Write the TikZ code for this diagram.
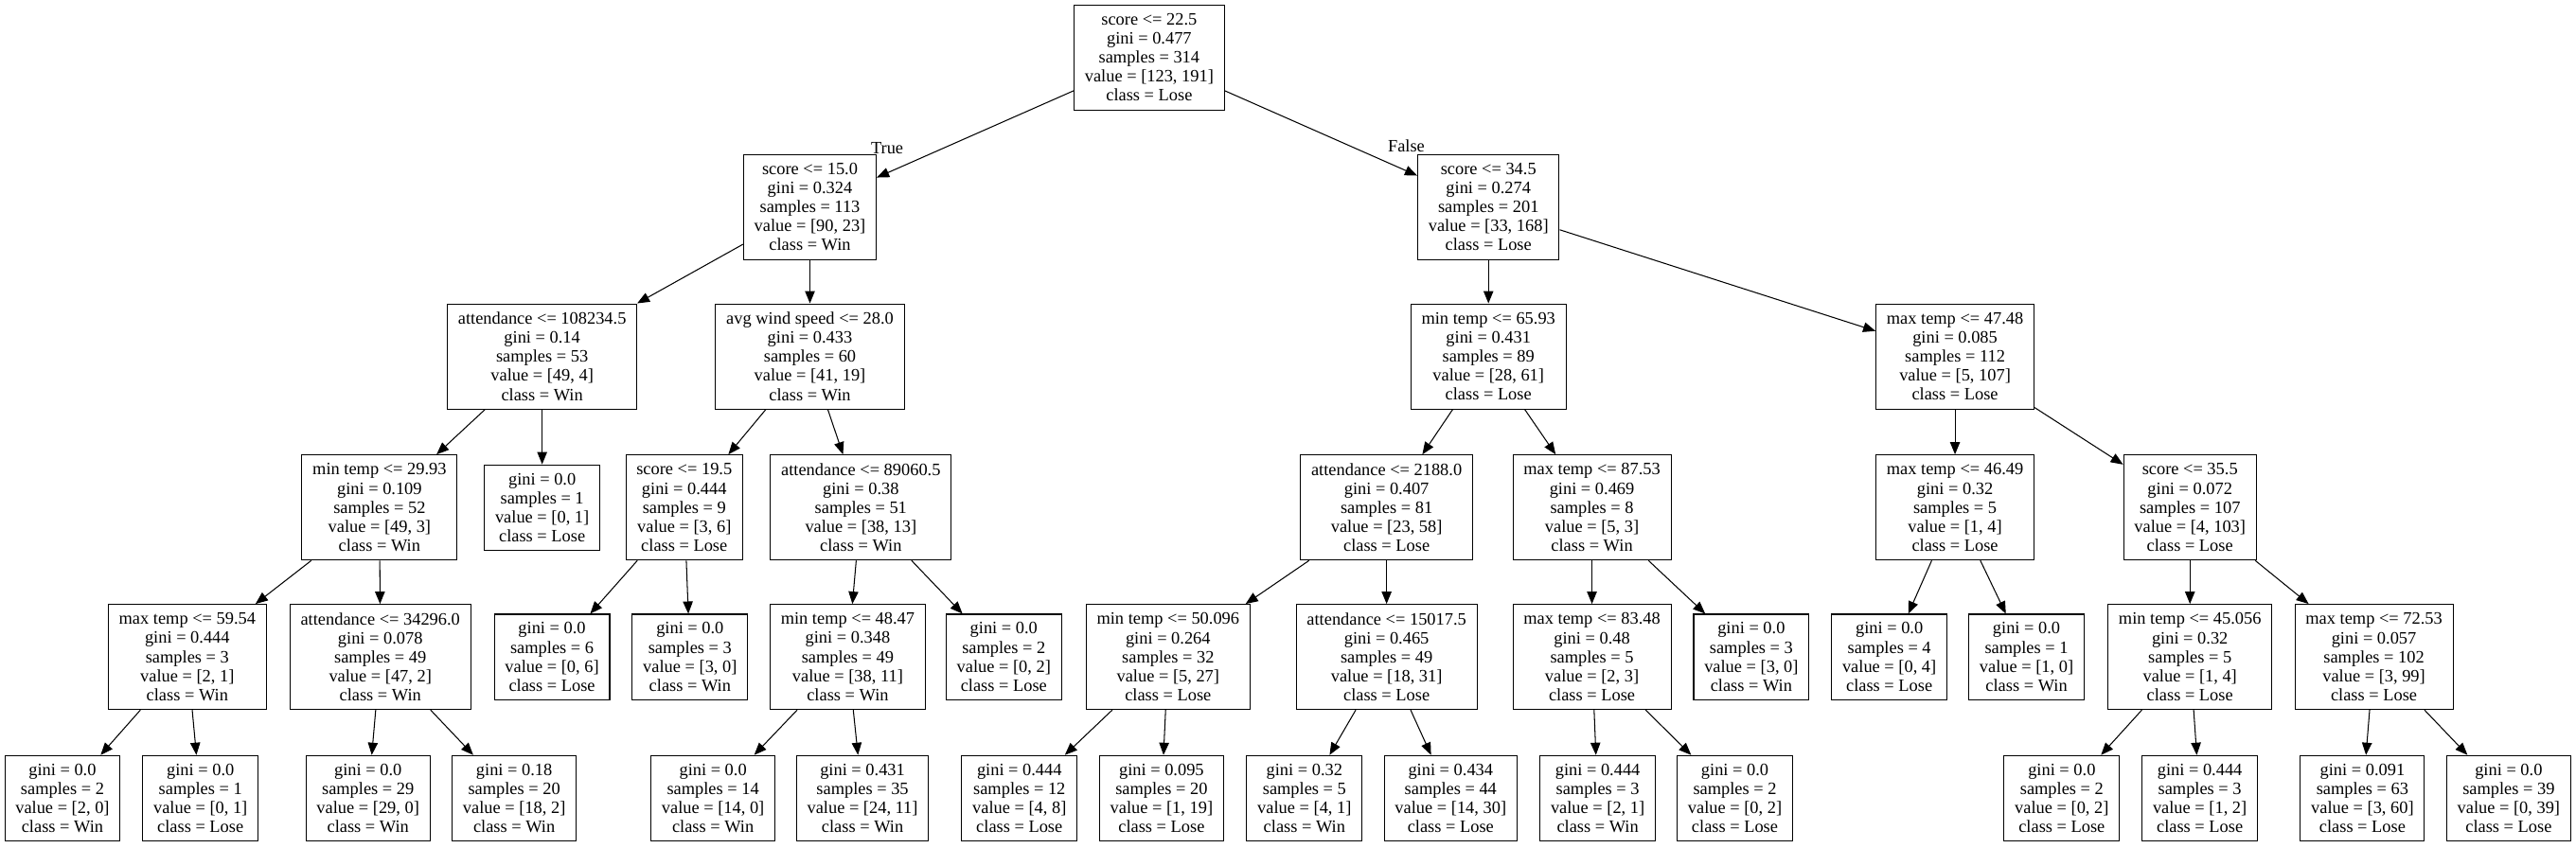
\documentclass[tikz,border=0pt]{standalone}
\usepackage{fontspec}
\setmainfont{Liberation Serif}
\usetikzlibrary{arrows.meta}

\begin{document}
\begin{tikzpicture}[x=1pt, y=-1pt,
    split/.style={draw, line width=0.6pt, align=center, inner xsep=6.5pt, inner ysep=0pt, minimum height=64pt, font=\fontsize{10.6}{11.6}\selectfont},
    leaf/.style={split, minimum height=52pt},
    edge/.style={-{Triangle[length=7.5pt, width=6pt]}, line width=0.6pt},
    lbl/.style={font=\fontsize{10.6}{11.6}\selectfont, inner sep=0pt}]
    \useasboundingbox (0,0) rectangle (1568,516);

    % level 0
    \node[split] (n) at (699.5,35) {score <= 22.5\\gini = 0.477\\samples = 314\\value = [123, 191]\\class = Lose};

    % level 1
    \node[split] (nL) at (493,126) {score <= 15.0\\gini = 0.324\\samples = 113\\value = [90, 23]\\class = Win};
    \node[split] (nR) at (906,126) {score <= 34.5\\gini = 0.274\\samples = 201\\value = [33, 168]\\class = Lose};

    % level 2
    \node[split] (nLL) at (330,217) {attendance <= 108234.5\\gini = 0.14\\samples = 53\\value = [49, 4]\\class = Win};
    \node[split] (nLR) at (493,217) {avg wind speed <= 28.0\\gini = 0.433\\samples = 60\\value = [41, 19]\\class = Win};
    \node[split] (nRL) at (906,217) {min temp <= 65.93\\gini = 0.431\\samples = 89\\value = [28, 61]\\class = Lose};
    \node[split] (nRR) at (1190,217) {max temp <= 47.48\\gini = 0.085\\samples = 112\\value = [5, 107]\\class = Lose};

    % level 3
    \node[split] (nLLL) at (231,309) {min temp <= 29.93\\gini = 0.109\\samples = 52\\value = [49, 3]\\class = Win};
    \node[leaf]  (nLLR) at (330,309) {gini = 0.0\\samples = 1\\value = [0, 1]\\class = Lose};
    \node[split] (nLRL) at (416.5,309) {score <= 19.5\\gini = 0.444\\samples = 9\\value = [3, 6]\\class = Lose};
    \node[split] (nLRR) at (524,309) {attendance <= 89060.5\\gini = 0.38\\samples = 51\\value = [38, 13]\\class = Win};
    \node[split] (nRLL) at (844,309) {attendance <= 2188.0\\gini = 0.407\\samples = 81\\value = [23, 58]\\class = Lose};
    \node[split] (nRLR) at (969,309) {max temp <= 87.53\\gini = 0.469\\samples = 8\\value = [5, 3]\\class = Win};
    \node[split] (nRRL) at (1190,309) {max temp <= 46.49\\gini = 0.32\\samples = 5\\value = [1, 4]\\class = Lose};
    \node[split] (nRRR) at (1333,309) {score <= 35.5\\gini = 0.072\\samples = 107\\value = [4, 103]\\class = Lose};

    % level 4
    \node[split] (nLLLL) at (114,400) {max temp <= 59.54\\gini = 0.444\\samples = 3\\value = [2, 1]\\class = Win};
    \node[split] (nLLLR) at (231.5,400) {attendance <= 34296.0\\gini = 0.078\\samples = 49\\value = [47, 2]\\class = Win};
    \node[leaf]  (nLRLL) at (336,400) {gini = 0.0\\samples = 6\\value = [0, 6]\\class = Lose};
    \node[leaf]  (nLRLR) at (420,400) {gini = 0.0\\samples = 3\\value = [3, 0]\\class = Win};
    \node[split] (nLRRL) at (516,400) {min temp <= 48.47\\gini = 0.348\\samples = 49\\value = [38, 11]\\class = Win};
    \node[leaf]  (nLRRR) at (611,400) {gini = 0.0\\samples = 2\\value = [0, 2]\\class = Lose};
    \node[split] (nRLLL) at (711,400) {min temp <= 50.096\\gini = 0.264\\samples = 32\\value = [5, 27]\\class = Lose};
    \node[split] (nRLLR) at (844,400) {attendance <= 15017.5\\gini = 0.465\\samples = 49\\value = [18, 31]\\class = Lose};
    \node[split] (nRLRL) at (969,400) {max temp <= 83.48\\gini = 0.48\\samples = 5\\value = [2, 3]\\class = Lose};
    \node[leaf]  (nRLRR) at (1066,400) {gini = 0.0\\samples = 3\\value = [3, 0]\\class = Win};
    \node[leaf]  (nRRLL) at (1150,400) {gini = 0.0\\samples = 4\\value = [0, 4]\\class = Lose};
    \node[leaf]  (nRRLR) at (1233.5,400) {gini = 0.0\\samples = 1\\value = [1, 0]\\class = Win};
    \node[split] (nRRRL) at (1333,400) {min temp <= 45.056\\gini = 0.32\\samples = 5\\value = [1, 4]\\class = Lose};
    \node[split] (nRRRR) at (1445,400) {max temp <= 72.53\\gini = 0.057\\samples = 102\\value = [3, 99]\\class = Lose};

    % level 5
    \node[leaf] (nLLLLL) at (38,486) {gini = 0.0\\samples = 2\\value = [2, 0]\\class = Win};
    \node[leaf] (nLLLLR) at (122,486) {gini = 0.0\\samples = 1\\value = [0, 1]\\class = Lose};
    \node[leaf] (nLLLRL) at (224,486) {gini = 0.0\\samples = 29\\value = [29, 0]\\class = Win};
    \node[leaf] (nLLLRR) at (313,486) {gini = 0.18\\samples = 20\\value = [18, 2]\\class = Win};
    \node[leaf] (nLRRLL) at (434,486) {gini = 0.0\\samples = 14\\value = [14, 0]\\class = Win};
    \node[leaf] (nLRRLR) at (525,486) {gini = 0.431\\samples = 35\\value = [24, 11]\\class = Win};
    \node[leaf] (nRLLLL) at (620.5,486) {gini = 0.444\\samples = 12\\value = [4, 8]\\class = Lose};
    \node[leaf] (nRLLLR) at (707,486) {gini = 0.095\\samples = 20\\value = [1, 19]\\class = Lose};
    \node[leaf] (nRLLRL) at (794,486) {gini = 0.32\\samples = 5\\value = [4, 1]\\class = Win};
    \node[leaf] (nRLLRR) at (883,486) {gini = 0.434\\samples = 44\\value = [14, 30]\\class = Lose};
    \node[leaf] (nRLRLL) at (972.5,486) {gini = 0.444\\samples = 3\\value = [2, 1]\\class = Win};
    \node[leaf] (nRLRLR) at (1056,486) {gini = 0.0\\samples = 2\\value = [0, 2]\\class = Lose};
    \node[leaf] (nRRRLL) at (1255,486) {gini = 0.0\\samples = 2\\value = [0, 2]\\class = Lose};
    \node[leaf] (nRRRLR) at (1339,486) {gini = 0.444\\samples = 3\\value = [1, 2]\\class = Lose};
    \node[leaf] (nRRRRL) at (1438,486) {gini = 0.091\\samples = 63\\value = [3, 60]\\class = Lose};
    \node[leaf] (nRRRRR) at (1527,486) {gini = 0.0\\samples = 39\\value = [0, 39]\\class = Lose};

    % edges
    \draw[edge] (n) -- (nL);         \draw[edge] (n) -- (nR);
    \draw[edge] (nL) -- (nLL);       \draw[edge] (nL) -- (nLR);
    \draw[edge] (nR) -- (nRL);       \draw[edge] (nR) -- (nRR);
    \draw[edge] (nLL) -- (nLLL);     \draw[edge] (nLL) -- (nLLR);
    \draw[edge] (nLR) -- (nLRL);     \draw[edge] (nLR) -- (nLRR);
    \draw[edge] (nRL) -- (nRLL);     \draw[edge] (nRL) -- (nRLR);
    \draw[edge] (nRR) -- (nRRL);     \draw[edge] (nRR) -- (nRRR);
    \draw[edge] (nLLL) -- (nLLLL);   \draw[edge] (nLLL) -- (nLLLR);
    \draw[edge] (nLRL) -- (nLRLL);   \draw[edge] (nLRL) -- (nLRLR);
    \draw[edge] (nLRR) -- (nLRRL);   \draw[edge] (nLRR) -- (nLRRR);
    \draw[edge] (nRLL) -- (nRLLL);   \draw[edge] (nRLL) -- (nRLLR);
    \draw[edge] (nRLR) -- (nRLRL);   \draw[edge] (nRLR) -- (nRLRR);
    \draw[edge] (nRRL) -- (nRRLL);   \draw[edge] (nRRL) -- (nRRLR);
    \draw[edge] (nRRR) -- (nRRRL);   \draw[edge] (nRRR) -- (nRRRR);
    \draw[edge] (nLLLL) -- (nLLLLL); \draw[edge] (nLLLL) -- (nLLLLR);
    \draw[edge] (nLLLR) -- (nLLLRL); \draw[edge] (nLLLR) -- (nLLLRR);
    \draw[edge] (nLRRL) -- (nLRRLL); \draw[edge] (nLRRL) -- (nLRRLR);
    \draw[edge] (nRLLL) -- (nRLLLL); \draw[edge] (nRLLL) -- (nRLLLR);
    \draw[edge] (nRLLR) -- (nRLLRL); \draw[edge] (nRLLR) -- (nRLLRR);
    \draw[edge] (nRLRL) -- (nRLRLL); \draw[edge] (nRLRL) -- (nRLRLR);
    \draw[edge] (nRRRL) -- (nRRRLL); \draw[edge] (nRRRL) -- (nRRRLR);
    \draw[edge] (nRRRR) -- (nRRRRL); \draw[edge] (nRRRR) -- (nRRRRR);

    \node[lbl] (lblTrue) at (540,90) {True};
    \node[lbl] (lblFalse) at (856,89) {False};

\end{tikzpicture}
\end{document}
